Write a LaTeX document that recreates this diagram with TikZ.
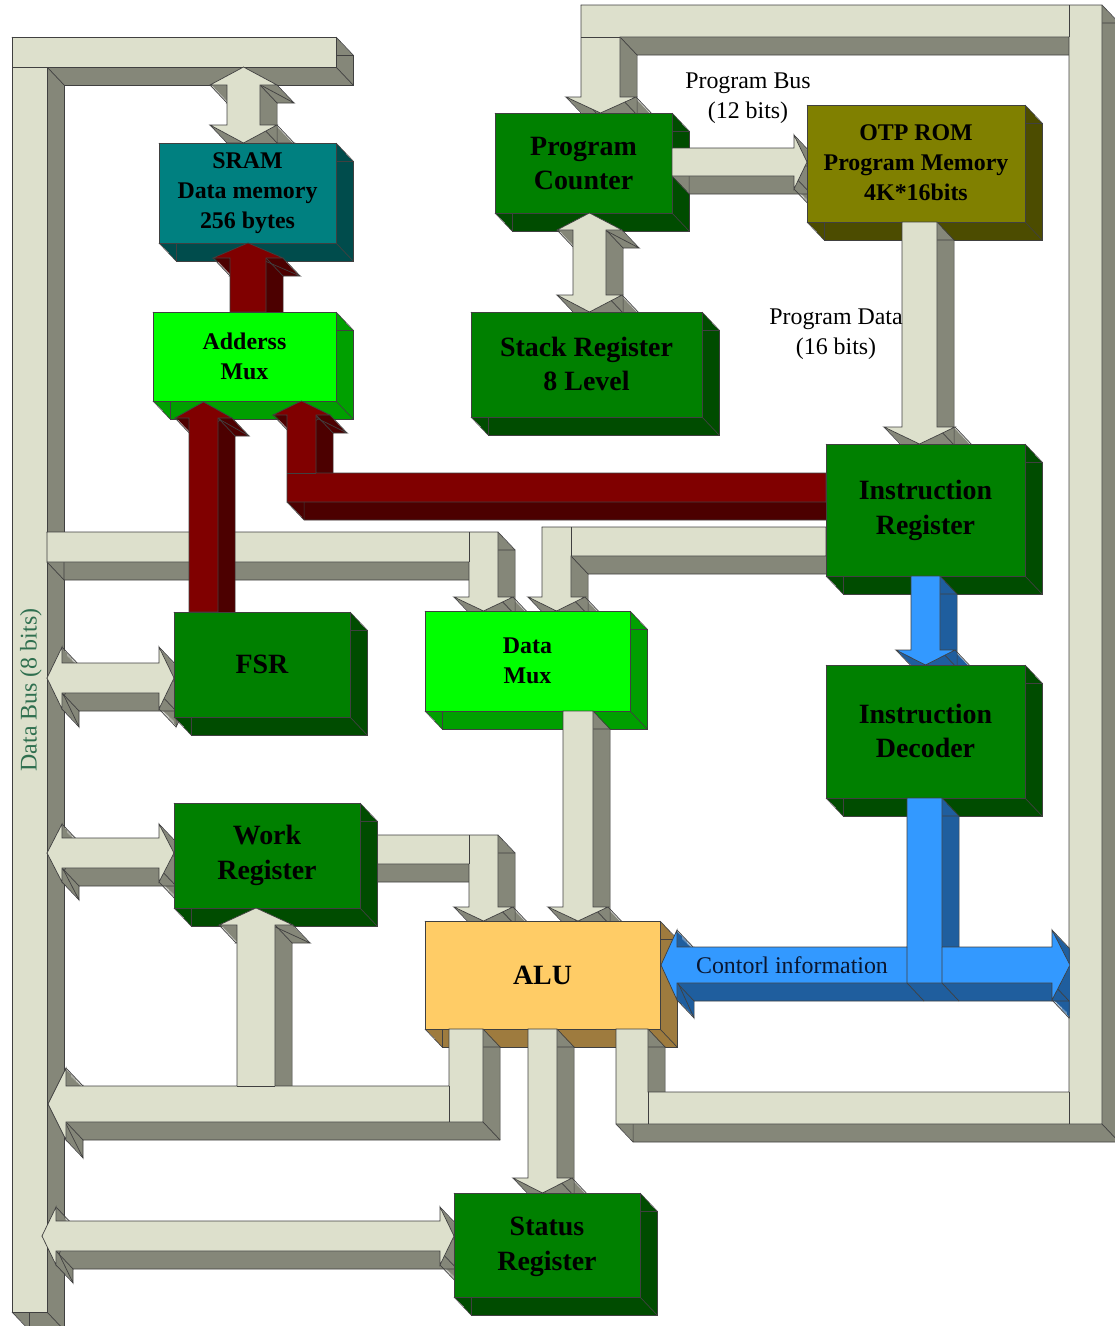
\documentclass[tikz,border=0pt]{standalone}
\usepackage{fontspec}
\setmainfont{Liberation Serif}
\usetikzlibrary{plotmarks}

\definecolor{busfront}{HTML}{DDE0CC}
\definecolor{busside}{HTML}{858779}
\definecolor{regfront}{HTML}{008000}
\definecolor{regside}{HTML}{004C00}
\definecolor{muxfront}{HTML}{00FF00}
\definecolor{muxside}{HTML}{00A000}
\definecolor{ramfront}{HTML}{008080}
\definecolor{ramside}{HTML}{004C4C}
\definecolor{romfront}{HTML}{808000}
\definecolor{romside}{HTML}{4C4C00}
\definecolor{alufront}{HTML}{FFCC66}
\definecolor{aluside}{HTML}{9E7B3E}
\definecolor{adrfront}{HTML}{800000}
\definecolor{adrside}{HTML}{4C0000}
\definecolor{ctlfront}{HTML}{3399FF}
\definecolor{ctlside}{HTML}{1F5E9E}
\definecolor{buslabel}{HTML}{2F6F4F}
\definecolor{ctltext}{HTML}{0A1630}

\pgfdeclareplotmark{diag}{\pgfpathmoveto{\pgfpointorigin}\pgfpathlineto{\pgfpoint{0.342cm}{-0.36cm}}\pgfusepathqstroke}

\tikzset{
  edge/.style={draw=black!75, line width=0.4pt},
  big/.style={font=\fontsize{15.9}{19.8}\selectfont\bfseries, align=center, inner sep=0pt},
  mid/.style={font=\fontsize{13.6}{17}\selectfont\bfseries, align=center, inner sep=0pt},
  plain/.style={font=\fontsize{13.6}{17}\selectfont, align=center, inner sep=0pt}
}

% extruded shape: front colour, side colour, corner list
\newcommand{\solid}[3]{%
  \foreach \dd in {1,...,18}{\fill[#2, shift={(0.95*\dd,\dd)}] plot coordinates {#3} -- cycle;}
  \draw[edge, shift={(17.1,18)}] plot coordinates {#3} -- cycle;
  \draw[edge] plot[only marks, mark=diag] coordinates {#3};
  \filldraw[edge, fill=#1] plot coordinates {#3} -- cycle;
}
\newcommand{\block}[6]{\solid{#1}{#2}{(#3,#4) (#5,#4) (#5,#6) (#3,#6)}}

\begin{document}
\begin{tikzpicture}[x=0.02cm, y=-0.02cm]
\useasboundingbox (0,0) rectangle (1115,1326);

% data bus
\solid{busfront}{busside}{(12,37) (336,37) (336,67) (47,67) (47,1312) (12,1312)}
\draw[edge] (12,67) -- (47,67);
\solid{busfront}{busside}{(47,532) (498,532) (498,597) (513,597) (483.5,611) (454,597) (469,597) (469,562) (47,562)}
\draw[edge] (469,532) -- (469,562);
\solid{busfront}{busside}{(47,678) (62,647) (62,663) (159,663) (159,647) (174,678) (159,709) (159,693) (62,693) (62,709)}
\solid{busfront}{busside}{(47,853) (62,824) (62,838) (159,838) (159,824) (174,853) (159,882) (159,868) (62,868) (62,882)}
\solid{busfront}{busside}{(42,1236) (56,1207) (56,1221) (440,1221) (440,1207) (454,1236) (440,1265) (440,1251) (56,1251) (56,1265)}

% SRAM and address path
\solid{busfront}{busside}{(243.5,67) (277,85) (260,85) (260,125) (277,125) (243.5,143) (210,125) (227,125) (227,85) (210,85)}
\block{ramfront}{ramside}{159}{143}{336}{243}
\node[mid] (sram) at (247.5,193) {SRAM\\Data memory\\256 bytes};
\solid{adrfront}{adrside}{(248,243) (283,258) (266,258) (266,312) (230,312) (230,258) (213,258)}
\block{muxfront}{muxside}{153}{312}{336}{401}
\node[mid] (amux) at (244.5,356.5) {Adderss\\Mux};
\solid{adrfront}{adrside}{(203.5,402) (232,418) (218,418) (218,612) (189,612) (189,418) (175,418)}
\solid{adrfront}{adrside}{(301.5,401) (330,415) (316,415) (316,473) (826,473) (826,502) (287,502) (287,415) (273,415)}
\draw[edge] (287,473) -- (316,473);
\block{regfront}{regside}{174}{612}{350}{717}
\node[big] (fsr) at (262,664.5) {FSR};

% data mux, work register, ALU
\solid{busfront}{busside}{(826,527) (826,556) (571,556) (571,597) (585,597) (556.5,611) (528,597) (542,597) (542,527)}
\draw[edge] (571,527) -- (571,556);
\block{muxfront}{muxside}{425}{611}{630}{711}
\node[mid] (dmux) at (527.5,661) {Data\\Mux};
\solid{busfront}{busside}{(563,711) (593,711) (593,907) (608,907) (578,921) (548,907) (563,907)}
\solid{busfront}{busside}{(360,835) (498,835) (498,907) (513,907) (483.5,921) (454,907) (469,907) (469,864) (360,864)}
\draw[edge] (469,835) -- (469,864);
\block{regfront}{regside}{174}{803}{360}{908}
\node[big] (work) at (267,855.5) {Work\\Register};
\block{alufront}{aluside}{425}{921}{660}{1029}
\node[big] (alu) at (542.5,975) {ALU};
\solid{busfront}{busside}{(449,1029) (483,1029) (483,1122) (66,1122) (66,1140) (48,1104) (66,1068) (66,1086) (237,1086) (237,925) (219,925) (256,908) (293,925) (275,925) (275,1086) (449,1086)}
\draw[edge] (237,1086) -- (275,1086) (449,1086) -- (449,1122);
\solid{busfront}{busside}{(528,1029) (557,1029) (557,1178) (572,1178) (542.5,1193) (513,1178) (528,1178)}
\block{regfront}{regside}{454}{1193}{640}{1297}
\node[big] (status) at (547,1247) {Status\\Register};

% program bus
\solid{busfront}{busside}{(616,1029) (648,1029) (648,1092) (1069,1092) (1069,37) (620,37) (620,97) (636,97) (600.5,113) (566,97) (581,97) (581,5) (1102,5) (1102,1124) (616,1124)}
\draw[edge] (648,1092) -- (648,1124) (1069,1092) -- (1069,1124) (581,37) -- (620,37) (1069,5) -- (1069,37);
\block{regfront}{regside}{495}{113}{672}{213}
\node[big] (pc) at (583.5,163.5) {Program\\Counter};
\solid{busfront}{busside}{(672,148) (794,148) (794,135) (807,162) (794,189) (794,176) (672,176)}
\block{romfront}{romside}{807}{105}{1025}{222}
\node[mid] (rom) at (916,163) {OTP ROM\\Program Memory\\4K*16bits};
\solid{busfront}{busside}{(902,222) (937,222) (937,427) (955,427) (919.5,444) (884,427) (902,427)}
\solid{busfront}{busside}{(589.5,213) (622,230) (606,230) (606,295) (622,295) (589.5,312) (557,295) (573,295) (573,230) (557,230)}
\block{regfront}{regside}{471}{312}{702}{417}
\node[big] (stack) at (586.5,364) {Stack Register\\8 Level};

% instruction path
\block{regfront}{regside}{826}{444}{1025}{576}
\node[big] (ir) at (925.5,510) {Instruction\\Register};
\solid{ctlfront}{ctlside}{(911,576) (940,576) (940,650) (955,650) (925.5,665) (896,650) (911,650)}
\block{regfront}{regside}{826}{665}{1025}{798}
\node[big] (id) at (925.5,731) {Instruction\\Decoder};
\begin{scope}
\clip (0,0) rectangle (1069.5,1326);
\solid{ctlfront}{ctlside}{(661,965) (677,930) (677,947) (907,947) (907,798) (942,798) (942,947) (1052,947) (1052,930) (1070,965) (1052,1000) (1052,983) (677,983) (677,1000)}
\end{scope}
\draw[edge] (907,947) -- (907,983) (942,947) -- (942,983) (907,983) -- (924,1001) (942,983) -- (959,1001);

% labels
\node[plain] (pbus) at (748,98) {Program Bus\\(12 bits)};
\node[plain] (pdata) at (836,334) {Program Data\\(16 bits)};
\node[plain, text=buslabel, rotate=90] (dbus) at (31,690) {Data Bus (8 bits)};
\node[plain, text=ctltext] (ctl) at (792,965) {Contorl information};
\end{tikzpicture}
\end{document}
